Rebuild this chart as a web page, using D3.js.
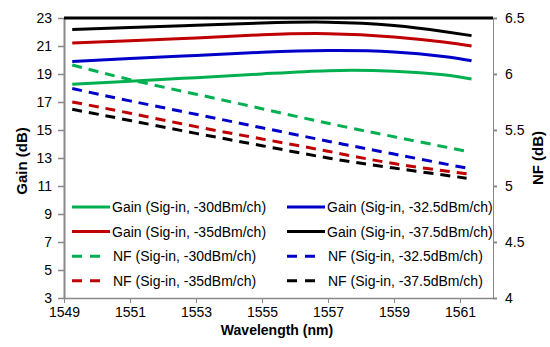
<!DOCTYPE html>
<html>
<head>
<meta charset="utf-8">
<script src="https://cdn.jsdelivr.net/npm/d3@7"></script>
<style>
  body { margin: 0; background: #fff; }
  svg text { font-family: "Liberation Sans", Arial, sans-serif; fill: #000; }
</style>
</head>
<body>
<svg id="chart" width="550" height="347"></svg>
<script>
// gain curves (solid, left axis)
const gainWl = [1549.25, 1551, 1553, 1555, 1557, 1559, 1560.5, 1561.35];
const gain30 = [18.26, 18.48, 18.74, 19.0, 19.24, 19.2, 18.94, 18.64];
const gain325 = [19.9, 20.1, 20.33, 20.55, 20.68, 20.58, 20.25, 19.95];
const gain35 = [21.21, 21.38, 21.58, 21.8, 21.88, 21.65, 21.28, 21.0];
const gain375 = [22.17, 22.32, 22.48, 22.64, 22.7, 22.47, 22.04, 21.74];

// noise figure curves (dashed, right axis)
const nfWl = [1549.25, 1551, 1553, 1555, 1557, 1559, 1561.2];
const nf30 = [6.08, 5.95, 5.82, 5.69, 5.56, 5.44, 5.31];
const nf325 = [5.87, 5.76, 5.64, 5.52, 5.4, 5.285, 5.16];
const nf35 = [5.75, 5.65, 5.53, 5.42, 5.31, 5.2, 5.11];
const nf375 = [5.685, 5.585, 5.47, 5.36, 5.25, 5.16, 5.07];

const xTicks = [1549, 1551, 1553, 1555, 1557, 1559, 1561];
const gainTicks = [3, 5, 7, 9, 11, 13, 15, 17, 19, 21, 23];
const nfTicks = [4, 4.5, 5, 5.5, 6, 6.5];

const green = '#00b050', blue = '#0000c8', red = '#c00000', black = '#000000';

const series = [
  {name: 'Gain (Sig-in, -30dBm/ch)', wl: gainWl, v: gain30, color: green, nf: false},
  {name: 'Gain (Sig-in, -32.5dBm/ch)', wl: gainWl, v: gain325, color: blue, nf: false},
  {name: 'Gain (Sig-in, -35dBm/ch)', wl: gainWl, v: gain35, color: red, nf: false},
  {name: 'Gain (Sig-in, -37.5dBm/ch)', wl: gainWl, v: gain375, color: black, nf: false},
  {name: 'NF (Sig-in, -30dBm/ch)', wl: nfWl, v: nf30, color: green, nf: true},
  {name: 'NF (Sig-in, -32.5dBm/ch)', wl: nfWl, v: nf325, color: blue, nf: true},
  {name: 'NF (Sig-in, -35dBm/ch)', wl: nfWl, v: nf35, color: red, nf: true},
  {name: 'NF (Sig-in, -37.5dBm/ch)', wl: nfWl, v: nf375, color: black, nf: true}
];

const margin = {top: 18, right: 57, bottom: 49, left: 64};
const W = 550, H = 347;
const svg = d3.select('#chart');

const x = d3.scaleLinear().domain([1549, 1562]).range([margin.left, W - margin.right]);
const yL = d3.scaleLinear().domain([3, 23]).range([H - margin.bottom, margin.top]);
const yR = d3.scaleLinear().domain([4, 6.5]).range([H - margin.bottom, margin.top]);

const axisGray = '#888';

// axes
const xAxisG = svg.append('g')
  .attr('transform', `translate(0,${yL(3)})`)
  .call(d3.axisBottom(x).tickValues(xTicks).tickFormat(d3.format('d'))
    .tickSizeInner(5).tickSizeOuter(0).tickPadding(4));
const yAxisG = svg.append('g')
  .attr('transform', `translate(${x(1549)},0)`)
  .call(d3.axisLeft(yL).tickValues(gainTicks).tickSizeInner(6).tickSizeOuter(0).tickPadding(6));
const y2AxisG = svg.append('g')
  .attr('transform', `translate(${x(1562)},0)`)
  .call(d3.axisRight(yR).tickValues(nfTicks).tickFormat(d => d).tickSizeInner(4).tickSizeOuter(0).tickPadding(8));

[xAxisG, yAxisG, y2AxisG].forEach(g => {
  g.selectAll('path, line').attr('stroke', axisGray);
  g.selectAll('text').style('font-size', '14px').attr('fill', '#000');
});
yAxisG.select('path').attr('stroke-width', 2);
yAxisG.selectAll('line').attr('stroke-width', 1.5);
xAxisG.select('path').attr('stroke-width', 1.5);
y2AxisG.selectAll('line').attr('stroke-width', 2);

// top border
svg.append('line')
  .attr('x1', x(1549)).attr('x2', x(1562))
  .attr('y1', yL(23)).attr('y2', yL(23))
  .attr('stroke', '#000').attr('stroke-width', 3);

// curves
series.forEach(s => {
  const yS = s.nf ? yR : yL;
  const line = d3.line()
    .x((d, i) => x(s.wl[i]))
    .y(d => yS(d))
    .curve(d3.curveNatural);
  svg.append('path')
    .datum(s.v)
    .attr('fill', 'none')
    .attr('stroke', s.color)
    .attr('stroke-width', 3)
    .attr('stroke-dasharray', s.nf ? '10,7' : null)
    .attr('d', line);
});

// legend, two columns filled row-wise
const legend = svg.append('g');
series.forEach((s, i) => {
  const col = i % 2, row = Math.floor(i / 2);
  const lx = 72 + col * 215, ly = 207 + row * 24.6;
  const g = legend.append('g').attr('transform', `translate(${lx},${ly})`);
  g.append('line')
    .attr('x1', 0).attr('x2', s.nf ? 29 : 38)
    .attr('y1', 0).attr('y2', 0)
    .attr('stroke', s.color).attr('stroke-width', 3)
    .attr('stroke-dasharray', s.nf ? '10,8' : null);
  g.append('text')
    .attr('x', s.nf ? 41 : 40).attr('y', 5)
    .style('font-size', '14px')
    .text(s.name);
});

// titles
svg.append('text')
  .attr('transform', `translate(27,161) rotate(-90)`)
  .attr('text-anchor', 'middle')
  .style('font-size', '15px').style('font-weight', 'bold')
  .text('Gain (dB)');
svg.append('text')
  .attr('transform', `translate(543,158) rotate(-90)`)
  .attr('text-anchor', 'middle')
  .style('font-size', '15px').style('font-weight', 'bold')
  .text('NF (dB)');
svg.append('text')
  .attr('x', 277).attr('y', 335)
  .attr('text-anchor', 'middle')
  .style('font-size', '14px').style('font-weight', 'bold')
  .text('Wavelength (nm)');
</script>
</body>
</html>
